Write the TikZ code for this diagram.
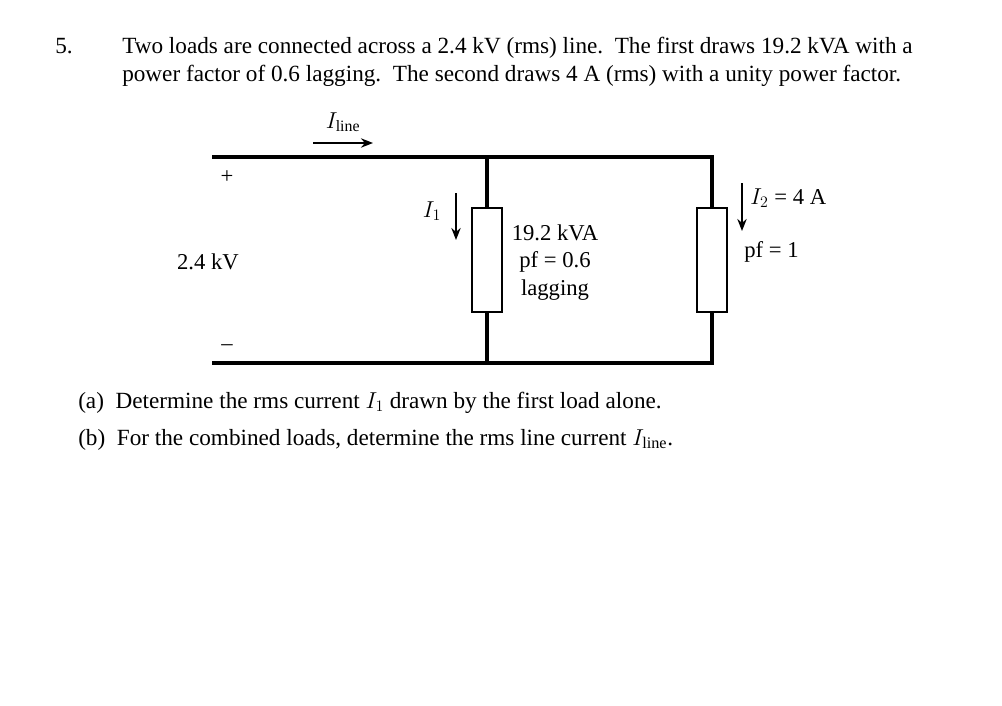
\documentclass[tikz,border=0pt]{standalone}
\usepackage{fontspec}
\setmainfont{Liberation Serif}
\usetikzlibrary{arrows.meta}
\begin{document}
\begin{tikzpicture}[x=0.75pt,y=-0.75pt,
  wire/.style={line width=2.6pt},
  box/.style={draw,line width=2pt,fill=white,minimum width=22.5pt,minimum height=78pt,inner sep=0pt},
  txt/.style={font=\fontsize{17.4pt}{20pt}\selectfont,inner sep=0pt,anchor=base west},
  lbl/.style={font=\fontsize{17pt}{20pt}\selectfont,inner sep=0pt},
  arr/.style={line width=1.6pt,-{Stealth[length=9pt,width=7pt]}}]
\useasboundingbox (0,0) rectangle (1002,706);
\node[txt] (n5) at (55,54) {5.};
\node[txt] (l1) at (122,54) {Two loads are connected across a 2.4 kV (rms) line.\ \ The first draws 19.2 kVA with a};
\node[txt] (l2) at (122,82) {power factor of 0.6 lagging.\ \ The second draws 4 A (rms) with a unity power factor.};
\node[txt] (qa) at (78,408) {(a)\ \ Determine the rms current $I_1$ drawn by the first load alone.};
\node[txt] (qb) at (78,445) {(b)\ \ For the combined loads, determine the rms line current $I_{\mathrm{line}}$.};
\coordinate (tl) at (212,157); \coordinate (tr) at (712,157);
\coordinate (bl) at (212,363); \coordinate (br) at (712,363);
\coordinate (tm) at (487,157); \coordinate (bm) at (487,363);
\draw[wire] (tl) -- (tr) -- (br) -- (bl);
\draw[wire] (tm) -- (bm);
\node[box] (r1) at (487,260) {};
\node[box] (r2) at (712,260) {};
\node[lbl] (plus) at (227,177) {+};
\node[lbl] (minus) at (227,348) {--};
\node[lbl] (v) at (208,262) {2.4 kV};
\node[lbl] (il) at (343,122) {$I_{\mathrm{line}}$};
\coordinate (a1) at (313,143); \coordinate (a2) at (373,143);
\draw[arr] (a1) -- (a2);
\node[lbl] (i1) at (432,211) {$I_1$};
\coordinate (b1) at (456,193); \coordinate (b2) at (456,240);
\draw[arr] (b1) -- (b2);
\coordinate (c1) at (742,183); \coordinate (c2) at (742,231);
\draw[arr] (c1) -- (c2);
\node[lbl,anchor=west] (i2) at (750,198) {$I_2$ = 4 A};
\node[lbl,anchor=west] (pf1) at (744,252) {pf = 1};
\node[lbl] (k1) at (555,233) {19.2 kVA};
\node[lbl] (k2) at (555,262) {pf = 0.6};
\node[lbl] (k3) at (555,290) {lagging};
\end{tikzpicture}
\end{document}
